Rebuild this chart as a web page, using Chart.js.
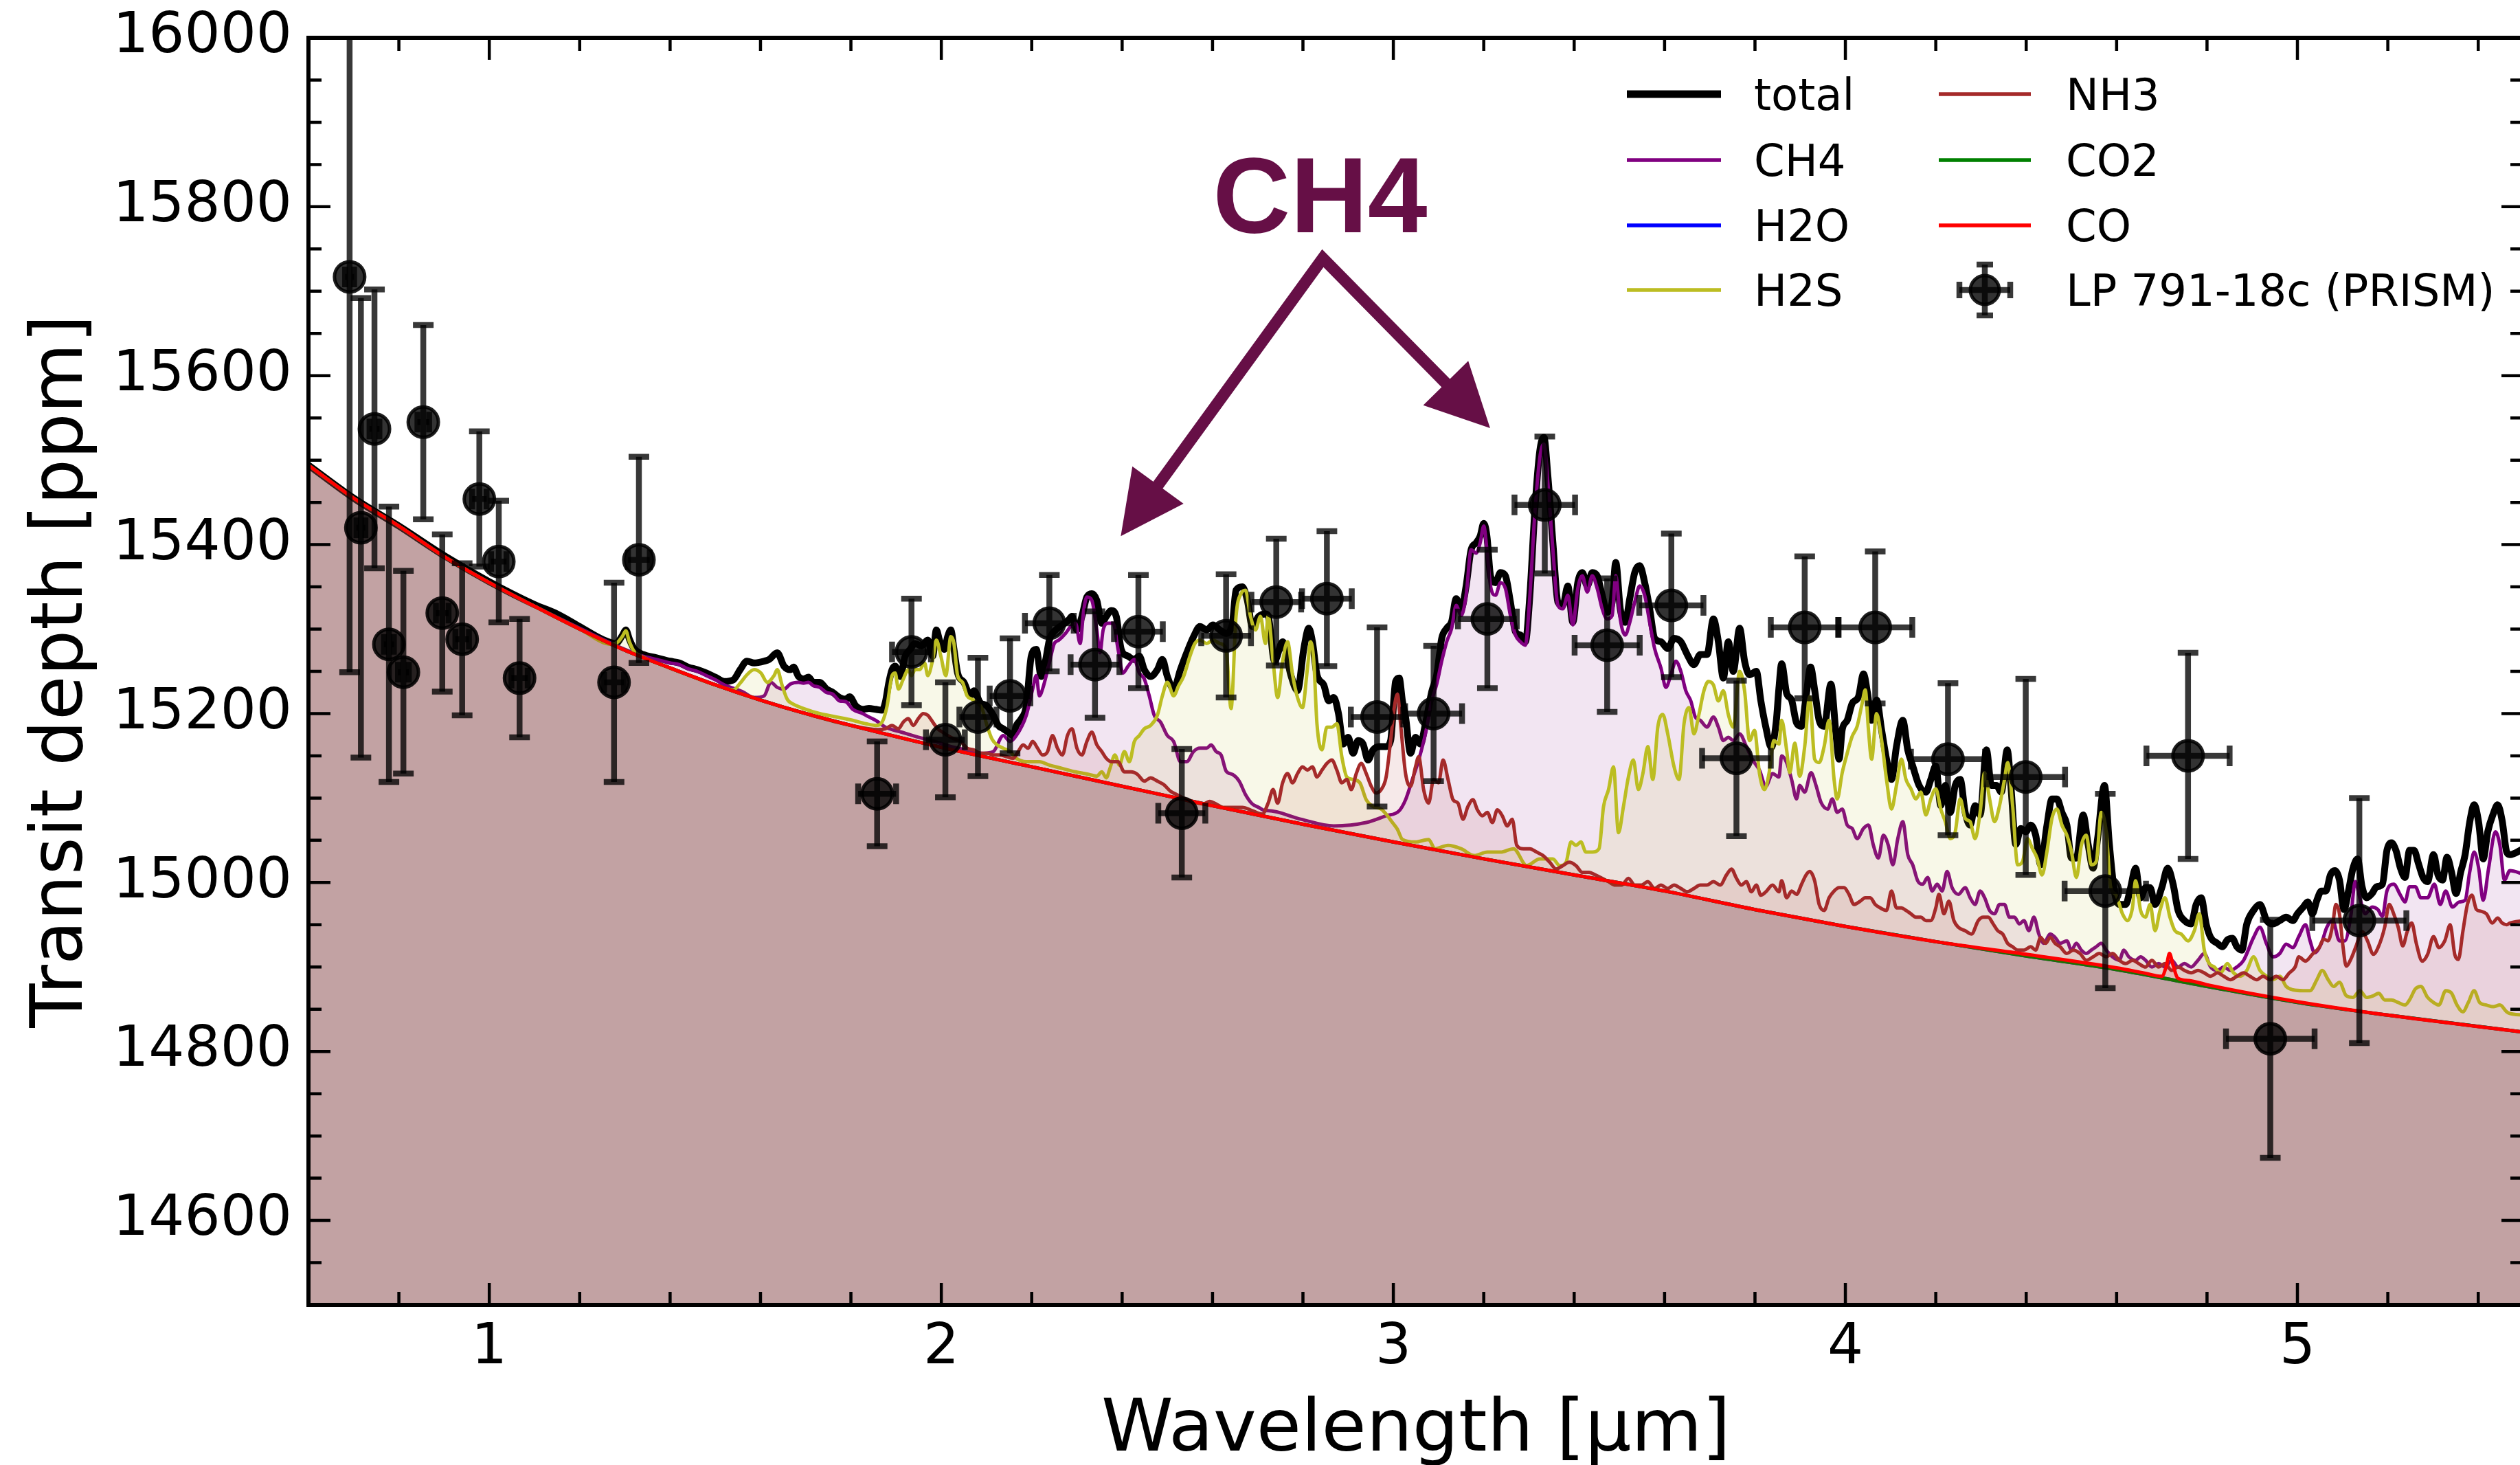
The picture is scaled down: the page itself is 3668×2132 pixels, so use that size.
<!DOCTYPE html>
<html>
<head>
<meta charset="utf-8">
<title>LP 791-18c transmission spectrum</title>
<script src="https://cdn.jsdelivr.net/npm/chart.js@4.4.1/dist/chart.umd.min.js"></script>
<style>
html,body{margin:0;padding:0;background:#fff;overflow:hidden;width:3668px;height:2132px;}
#holder{position:absolute;left:0;top:0;width:3700px;height:2132px;}
canvas{display:block;}
</style>
</head>
<body>
<div id="holder"><canvas id="chart" width="3700" height="2132"></canvas></div>
<script>
// ---------------- DATA (wavelength [um], transit depth [ppm]) ----------------
const seriesNames = ['total', 'CH4', 'H2O', 'H2S', 'NH3', 'CO2', 'CO'];
const observedLabel = 'LP 791-18c (PRISM)';

const xTickValues = [1, 2, 3, 4, 5];
const yTickValues = [14600, 14800, 15000, 15200, 15400, 15600, 15800, 16000];

// continuum (H2O and CO2 contributions coincide with it)
const continuumModel = [[0.6,15494],[0.7,15455],[0.8,15422],[0.9,15386],[1.0,15355],[1.1,15327],[1.2,15300],[1.3,15275],[1.4,15254],[1.5,15234],[1.6,15216],[1.7,15200],[1.8,15186],[2.0,15160],[2.2,15137],[2.4,15114],[2.6,15091],[2.8,15069],[3.0,15048],[3.2,15028],[3.4,15009],[3.6,14990],[3.8,14968],[4.0,14948],[4.2,14930],[4.4,14913],[4.6,14897],[4.8,14877],[5.0,14858],[5.2,14843],[5.5,14823]];

const h2oModel = continuumModel;
const co2Model = continuumModel;

const coModel = [[0.6,15494],[0.7,15455],[0.8,15422],[0.9,15386],[1.0,15355],[1.1,15327],[1.2,15300],[1.3,15275],[1.4,15254],[1.5,15234],[1.6,15216],[1.7,15200],[1.8,15186],[2.0,15160],[2.2,15137],[2.4,15114],[2.6,15091],[2.8,15069],[3.0,15048],[3.2,15028],[3.4,15009],[3.6,14990],[3.8,14968],[4.0,14948],[4.2,14930],[4.4,14915],[4.6,14899],[4.66,14893],[4.70,14889],[4.71,14901],[4.717,14916],[4.725,14902],[4.735,14887],[4.76,14884],[4.8,14879],[5.0,14859],[5.2,14843],[5.5,14823]];

const totalModel = [[0.6,15494],[0.7,15455],[0.8,15422],[0.9,15387],[1.0,15356],[1.1,15329],[1.15,15318],[1.2,15303],[1.25,15288],[1.28,15283],[1.295,15293],[1.302,15299],[1.31,15288],[1.32,15277],[1.34,15270],[1.37,15266],[1.40,15262],[1.42,15260],[1.44,15255],[1.46,15252],[1.48,15248],[1.50,15243],[1.52,15238],[1.54,15240],[1.555,15252],[1.57,15262],
[1.586,15260],[1.608,15262],[1.619,15264],[1.637,15272],[1.652,15256],[1.666,15252],[1.673,15255],[1.684,15244],[1.695,15241],[1.706,15243],[1.717,15237],[1.731,15237],[1.746,15229],[1.760,15225],[1.775,15219],[1.789,15217],[1.797,15220],[1.811,15209],[1.826,15205],[1.840,15206],[1.855,15205],[1.869,15204],[1.876,15213],[1.884,15237],[1.891,15252],[1.898,15256],[1.909,15244],[1.920,15268],[1.931,15276],[1.942,15283],[1.956,15280],[1.970,15287],[1.981,15268],[1.989,15299],[1.996,15287],[2.007,15276],[2.014,15291],[2.021,15299],[2.028,15276],[2.036,15248],[2.050,15237],[2.065,15221],[2.072,15227],[2.086,15213],[2.101,15209],[2.115,15198],[2.126,15186],[2.137,15182],[2.148,15178],[2.159,15174],[2.166,15186],[2.177,15194],[2.188,15209],[2.199,15268],[2.210,15276],[2.221,15244],[2.231,15264],[2.239,15287],[2.253,15299],[2.268,15305],[2.282,15311],[2.289,15315],[2.300,15299],[2.311,15315],[2.322,15338],[2.333,15342],[2.344,15334],[2.355,15307],[2.365,15315],[2.376,15322],[2.387,15315],[2.398,15276],[2.413,15268],[2.427,15264],[2.438,15268],[2.449,15252],[2.463,15244],[2.478,15252],[2.489,15264],[2.500,15244],[2.514,15229],[2.529,15252],[2.543,15272],[2.558,15291],[2.572,15303],[2.587,15299],[2.601,15305],[2.616,15299],[2.630,15295],[2.644,15307],[2.652,15346],[2.666,15350],[2.677,15334],[2.688,15303],[2.702,15315],[2.717,15318],
[2.723,15316],[2.737,15262],[2.755,15285],[2.773,15246],[2.788,15227],[2.802,15277],[2.813,15301],[2.821,15285],[2.831,15246],[2.846,15234],[2.857,15215],[2.868,15219],[2.879,15199],[2.889,15164],[2.900,15172],[2.911,15153],[2.922,15168],[2.933,15164],[2.944,15145],[2.955,15157],[2.969,15161],[2.984,15161],[2.994,15168],[3.005,15238],[3.013,15242],[3.020,15215],[3.027,15196],[3.038,15153],[3.049,15172],[3.060,15164],[3.071,15188],[3.085,15226],[3.096,15246],[3.107,15289],[3.118,15301],[3.129,15309],[3.139,15336],[3.150,15324],[3.161,15351],[3.172,15394],[3.183,15402],[3.192,15410],[3.200,15425],[3.207,15410],[3.215,15363],[3.226,15355],[3.237,15367],[3.248,15363],[3.259,15332],[3.270,15297],[3.281,15293],[3.292,15285],[3.302,15340],[3.313,15441],[3.324,15511],[3.333,15527],[3.342,15480],[3.353,15402],[3.364,15332],[3.375,15328],[3.386,15351],[3.397,15308],[3.408,15355],[3.418,15367],[3.429,15351],[3.440,15367],[3.451,15363],[3.462,15340],[3.473,15320],[3.484,15332],[3.492,15379],[3.502,15324],[3.513,15308],[3.523,15336],[3.534,15367],[3.545,15375],[3.556,15355],[3.567,15324],[3.578,15289],[3.592,15285],[3.607,15277],[3.621,15289],[3.636,15285],[3.650,15270],[3.665,15258],[3.679,15270],[3.694,15270],[3.708,15312],[3.719,15285],[3.730,15242],[3.741,15285],[3.752,15250],[3.766,15301],[3.777,15262],[3.788,15246],[3.803,15250],[3.813,15215],[3.824,15184],[3.836,15160],[3.847,15190],[3.853,15230],
[3.859,15259],[3.870,15224],[3.881,15216],[3.892,15189],[3.903,15185],[3.913,15220],[3.923,15255],[3.932,15228],[3.942,15192],[3.953,15185],[3.968,15235],[3.979,15177],[3.986,15146],[3.993,15181],[4.004,15192],[4.015,15212],[4.029,15220],[4.040,15247],[4.049,15224],[4.058,15192],[4.069,15216],[4.080,15181],[4.091,15146],[4.102,15122],[4.113,15161],[4.127,15192],[4.138,15157],[4.149,15138],[4.163,15115],[4.178,15107],[4.189,15122],[4.200,15138],[4.211,15091],[4.221,15115],[4.232,15083],[4.243,15115],[4.254,15122],[4.265,15083],[4.276,15068],[4.287,15091],[4.298,15080],[4.312,15157],[4.323,15115],[4.334,15115],[4.345,15107],[4.358,15157],[4.366,15115],[4.377,15045],[4.388,15064],[4.399,15060],[4.410,15068],[4.421,15056],[4.432,15021],[4.446,15068],[4.457,15099],[4.468,15099],[4.479,15083],[4.490,15068],[4.500,15029],[4.511,15029],[4.526,15080],[4.537,15045],[4.548,15017],[4.558,15052],[4.573,15115],[4.584,15045],[4.595,14990],[4.606,14974],[4.620,14974],[4.631,14994],[4.642,15017],[4.653,14982],[4.664,14994],[4.674,14994],[4.685,14974],[4.700,14994],[4.713,15017],[4.725,14998],[4.736,14967],[4.750,14955],[4.765,14951],[4.776,14974],[4.787,14982],[4.798,14951],[4.808,14935],[4.823,14928],[4.834,14924],[4.845,14932],[4.856,14934],[4.866,14924],[4.877,14920],[4.888,14951],[4.903,14967],[4.917,14974],[4.932,14955],[4.946,14951],[4.961,14955],[4.975,14959],[4.990,14955],
[5.000,14963],[5.013,14971],[5.023,14977],[5.033,14963],[5.043,14979],[5.053,14990],[5.063,14990],[5.073,15009],[5.083,15014],[5.093,15003],[5.103,14968],[5.113,14990],[5.123,15017],[5.133,15028],[5.143,14995],[5.153,14982],[5.165,14987],[5.175,14995],[5.188,14998],[5.198,15038],[5.208,15047],[5.218,15038],[5.228,15017],[5.238,15006],[5.248,15038],[5.258,15038],[5.268,15022],[5.278,15006],[5.288,15001],[5.301,15033],[5.311,15009],[5.321,15003],[5.331,15030],[5.341,15012],[5.351,14987],[5.361,15012],[5.371,15033],[5.381,15071],[5.391,15092],[5.401,15071],[5.411,15028],[5.421,15060],[5.433,15081],[5.443,15092],[5.453,15073],[5.463,15036],[5.470,15033],[5.5,15040]];

const ch4Model = [[0.6,15494],[0.7,15455],[0.8,15422],[0.9,15386],[1.0,15355],[1.1,15327],[1.2,15301],[1.3,15276],[1.34,15268],[1.37,15264],[1.40,15260],[1.42,15258],[1.44,15253],[1.46,15250],[1.48,15245],[1.50,15240],[1.52,15234],[1.54,15230],[1.56,15226],
[1.586,15219],[1.608,15221],[1.623,15237],[1.637,15231],[1.652,15229],[1.666,15235],[1.684,15237],[1.695,15236],[1.706,15237],[1.717,15233],[1.731,15231],[1.746,15225],[1.760,15223],[1.775,15215],[1.789,15214],[1.804,15205],[1.826,15200],[1.840,15196],[1.855,15192],[1.876,15184],[1.912,15178],[1.949,15172],[1.985,15167],[2.021,15161],[2.057,15157],[2.094,15153],[2.115,15155],[2.137,15174],[2.152,15167],[2.166,15174],[2.188,15198],[2.202,15229],[2.210,15245],[2.217,15221],[2.224,15229],[2.239,15260],[2.250,15283],[2.260,15287],[2.275,15295],[2.286,15303],[2.297,15307],[2.307,15283],[2.315,15322],[2.322,15338],[2.333,15334],[2.344,15299],[2.351,15272],[2.358,15299],[2.369,15307],[2.380,15307],[2.391,15276],[2.402,15248],[2.413,15256],[2.427,15264],[2.438,15248],[2.449,15241],[2.460,15221],[2.471,15198],[2.485,15190],[2.500,15174],[2.514,15167],[2.529,15143],[2.543,15143],[2.558,15155],[2.572,15159],[2.587,15159],[2.597,15163],[2.608,15155],[2.619,15151],[2.630,15132],[2.644,15128],[2.659,15120],[2.673,15104],[2.688,15093],[2.702,15089],[2.717,15085],
[2.723,15085],[2.795,15075],[2.868,15067],[2.940,15071],[2.984,15079],[3.013,15085],[3.027,15098],[3.042,15122],[3.056,15145],[3.071,15176],[3.085,15215],[3.096,15235],[3.107,15262],[3.118,15285],[3.129,15301],[3.139,15328],[3.150,15316],[3.161,15340],[3.172,15394],[3.183,15390],[3.192,15402],[3.200,15422],[3.207,15394],[3.215,15351],[3.226,15340],[3.237,15355],[3.248,15348],[3.259,15316],[3.270,15293],[3.281,15285],[3.292,15281],[3.302,15340],[3.313,15437],[3.324,15503],[3.333,15519],[3.342,15472],[3.353,15394],[3.364,15328],[3.375,15324],[3.386,15340],[3.397,15305],[3.408,15348],[3.418,15363],[3.429,15344],[3.440,15363],[3.451,15348],[3.462,15324],[3.473,15312],[3.484,15316],[3.492,15363],[3.502,15312],[3.513,15293],[3.523,15308],[3.534,15332],[3.545,15351],[3.556,15340],[3.567,15308],[3.578,15277],[3.592,15254],[3.603,15231],[3.614,15246],[3.625,15262],[3.636,15250],[3.647,15227],[3.658,15215],[3.668,15196],[3.679,15192],[3.694,15184],[3.708,15196],[3.719,15184],[3.730,15168],[3.741,15172],[3.752,15168],[3.766,15176],[3.781,15161],[3.795,15145],[3.810,15133],[3.824,15114],[3.839,15129],[3.853,15125],
[3.859,15150],[3.870,15142],[3.881,15122],[3.892,15099],[3.899,15115],[3.910,15107],[3.924,15130],[3.935,15115],[3.946,15095],[3.961,15087],[3.971,15099],[3.982,15083],[3.993,15087],[4.004,15068],[4.015,15064],[4.026,15052],[4.040,15064],[4.051,15068],[4.062,15044],[4.073,15029],[4.084,15056],[4.095,15044],[4.105,15021],[4.116,15052],[4.127,15072],[4.138,15033],[4.149,15021],[4.160,15002],[4.171,14998],[4.182,15006],[4.192,14990],[4.203,14998],[4.214,14990],[4.225,15013],[4.236,14994],[4.250,14986],[4.265,14994],[4.276,14982],[4.287,14974],[4.298,14990],[4.308,14982],[4.319,14967],[4.330,14963],[4.341,14974],[4.352,14974],[4.363,14959],[4.374,14959],[4.385,14951],[4.395,14955],[4.406,14943],[4.417,14959],[4.428,14939],[4.439,14928],[4.453,14939],[4.464,14935],[4.475,14928],[4.490,14931],[4.500,14920],[4.511,14928],[4.522,14920],[4.533,14916],[4.544,14920],[4.555,14924],[4.566,14928],[4.577,14920],[4.591,14912],[4.606,14908],[4.616,14920],[4.627,14912],[4.642,14908],[4.653,14912],[4.664,14908],[4.678,14900],[4.693,14904],[4.707,14900],[4.722,14908],[4.736,14900],[4.750,14904],[4.765,14900],[4.780,14908],[4.794,14916],[4.808,14900],[4.823,14896],[4.837,14900],[4.852,14896],[4.866,14900],[4.881,14908],[4.903,14935],[4.917,14947],[4.932,14927],[4.946,14912],[4.961,14916],[4.975,14927],[4.990,14923],
[5.003,14936],[5.018,14950],[5.028,14931],[5.038,14917],[5.053,14928],[5.065,14947],[5.078,14955],[5.093,14931],[5.105,14931],[5.118,14960],[5.128,15001],[5.138,14982],[5.150,14963],[5.165,14971],[5.178,14968],[5.188,14960],[5.198,14990],[5.213,14998],[5.228,14985],[5.238,14977],[5.248,14995],[5.261,14995],[5.273,14982],[5.288,14982],[5.303,14998],[5.316,14974],[5.328,14990],[5.343,14971],[5.358,14977],[5.371,14979],[5.381,15012],[5.391,15036],[5.401,15017],[5.411,14979],[5.423,15017],[5.438,15060],[5.448,15044],[5.458,15003],[5.470,15014],[5.5,15010]];

const h2sModel = [[0.6,15494],[0.7,15455],[0.8,15422],[0.9,15386],[1.0,15355],[1.1,15327],[1.2,15300],[1.27,15282],[1.285,15285],[1.295,15292],[1.302,15298],[1.31,15285],[1.32,15274],[1.34,15267],[1.4,15254],[1.5,15234],[1.54,15228],[1.555,15236],[1.57,15246],
[1.586,15252],[1.601,15248],[1.615,15237],[1.630,15245],[1.637,15252],[1.648,15233],[1.659,15217],[1.673,15211],[1.695,15206],[1.731,15200],[1.768,15196],[1.804,15192],[1.833,15188],[1.855,15186],[1.869,15190],[1.880,15209],[1.891,15245],[1.898,15248],[1.905,15229],[1.916,15241],[1.927,15252],[1.934,15245],[1.942,15252],[1.952,15252],[1.963,15260],[1.970,15245],[1.981,15264],[1.989,15287],[1.999,15268],[2.010,15245],[2.021,15291],[2.028,15283],[2.036,15245],[2.047,15237],[2.057,15221],[2.068,15217],[2.079,15213],[2.090,15206],[2.101,15186],[2.112,15170],[2.123,15163],[2.137,15159],[2.152,15155],[2.166,15147],[2.188,15143],[2.217,15143],[2.239,15139],[2.268,15135],[2.297,15131],[2.326,15128],[2.344,15126],[2.355,15131],[2.365,15124],[2.373,15135],[2.384,15151],[2.394,15139],[2.405,15155],[2.416,15143],[2.427,15167],[2.438,15174],[2.449,15182],[2.463,15186],[2.478,15198],[2.489,15221],[2.500,15237],[2.514,15221],[2.525,15233],[2.536,15244],[2.550,15268],[2.561,15283],[2.572,15287],[2.587,15283],[2.601,15287],[2.616,15283],[2.630,15276],[2.641,15206],[2.652,15315],[2.663,15342],[2.673,15346],[2.684,15315],[2.695,15299],[2.706,15315],[2.717,15283],
[2.723,15316],[2.734,15262],[2.744,15219],[2.755,15262],[2.766,15285],[2.777,15246],[2.788,15219],[2.799,15207],[2.810,15254],[2.817,15285],[2.824,15262],[2.831,15188],[2.842,15157],[2.853,15184],[2.864,15184],[2.875,15188],[2.886,15149],[2.897,15125],[2.911,15122],[2.926,15118],[2.940,15098],[2.955,15090],[2.973,15087],[2.987,15079],[2.998,15071],[3.009,15063],[3.020,15051],[3.049,15048],[3.078,15051],[3.092,15040],[3.121,15044],[3.150,15040],[3.179,15032],[3.208,15036],[3.237,15036],[3.266,15040],[3.295,15020],[3.324,15028],[3.353,15028],[3.368,15020],[3.382,15024],[3.393,15048],[3.404,15044],[3.415,15048],[3.426,15036],[3.440,15036],[3.455,15040],[3.465,15090],[3.476,15110],[3.487,15137],[3.498,15059],[3.509,15090],[3.520,15125],[3.531,15145],[3.542,15110],[3.552,15129],[3.563,15161],[3.574,15122],[3.585,15184],[3.596,15199],[3.607,15176],[3.621,15137],[3.632,15122],[3.643,15188],[3.654,15207],[3.665,15176],[3.676,15199],[3.687,15227],[3.697,15238],[3.708,15234],[3.719,15215],[3.730,15227],[3.741,15199],[3.752,15184],[3.766,15250],[3.777,15227],[3.788,15168],[3.799,15180],[3.810,15129],[3.821,15110],[3.831,15129],[3.842,15168],[3.853,15164],
[3.859,15192],[3.870,15157],[3.877,15130],[3.888,15165],[3.899,15126],[3.910,15161],[3.921,15220],[3.932,15146],[3.942,15142],[3.953,15161],[3.964,15192],[3.975,15122],[3.982,15099],[3.993,15130],[4.004,15153],[4.015,15173],[4.026,15185],[4.037,15212],[4.044,15228],[4.051,15181],[4.058,15146],[4.069,15200],[4.080,15169],[4.091,15122],[4.102,15087],[4.113,15115],[4.124,15146],[4.134,15122],[4.145,15111],[4.156,15099],[4.167,15107],[4.178,15080],[4.189,15099],[4.200,15111],[4.211,15087],[4.221,15072],[4.232,15052],[4.243,15060],[4.254,15099],[4.265,15076],[4.276,15072],[4.287,15052],[4.298,15083],[4.308,15130],[4.319,15099],[4.330,15072],[4.341,15091],[4.352,15122],[4.359,15142],[4.370,15091],[4.381,15021],[4.392,15025],[4.403,15052],[4.413,15041],[4.424,15029],[4.435,15009],[4.446,15037],[4.457,15076],[4.468,15087],[4.479,15068],[4.490,15056],[4.500,15037],[4.511,15006],[4.522,15044],[4.533,15056],[4.544,15021],[4.555,15025],[4.566,15083],[4.577,15060],[4.587,14994],[4.598,14986],[4.613,14963],[4.624,14955],[4.635,14970],[4.642,15002],[4.653,14967],[4.664,14959],[4.674,14974],[4.685,14943],[4.696,14967],[4.707,14982],[4.718,14959],[4.729,14943],[4.743,14939],[4.758,14931],[4.772,14943],[4.783,14963],[4.794,14920],[4.805,14904],[4.816,14900],[4.830,14893],[4.845,14904],[4.859,14893],[4.874,14889],[4.888,14896],[4.903,14912],[4.917,14896],[4.932,14889],[4.946,14885],[4.961,14889],[4.975,14877],[4.990,14873],
[5.013,14872],[5.028,14872],[5.043,14885],[5.055,14896],[5.068,14885],[5.080,14877],[5.093,14882],[5.108,14866],[5.123,14864],[5.138,14872],[5.153,14864],[5.168,14866],[5.180,14869],[5.193,14861],[5.208,14861],[5.223,14858],[5.238,14855],[5.248,14861],[5.261,14874],[5.273,14877],[5.288,14864],[5.301,14858],[5.313,14855],[5.328,14872],[5.341,14869],[5.353,14855],[5.366,14847],[5.378,14858],[5.391,14872],[5.403,14858],[5.418,14855],[5.433,14853],[5.448,14855],[5.463,14847],[5.470,14845],[5.5,14843]];

const nh3Model = [[0.6,15494],[0.7,15455],[0.8,15422],[0.9,15386],[1.0,15355],[1.1,15327],[1.2,15300],[1.3,15275],[1.4,15254],[1.5,15234],[1.6,15216],[1.7,15200],[1.8,15186],[1.86,15181],
[1.876,15182],[1.891,15186],[1.905,15182],[1.916,15190],[1.927,15194],[1.938,15186],[1.949,15194],[1.960,15200],[1.970,15198],[1.981,15190],[1.992,15182],[2.003,15178],[2.014,15174],[2.028,15170],[2.043,15167],[2.057,15159],[2.072,15157],[2.086,15153],[2.101,15153],[2.115,15151],[2.130,15151],[2.144,15149],[2.159,15147],[2.170,15155],[2.181,15163],[2.192,15159],[2.202,15167],[2.213,15159],[2.224,15151],[2.235,15155],[2.246,15174],[2.257,15159],[2.268,15151],[2.279,15174],[2.289,15182],[2.300,15159],[2.311,15151],[2.322,15167],[2.333,15178],[2.344,15163],[2.355,15155],[2.365,15147],[2.376,15143],[2.391,15143],[2.405,15131],[2.420,15131],[2.434,15128],[2.449,15120],[2.463,15124],[2.478,15120],[2.492,15116],[2.507,15108],[2.521,15104],[2.536,15100],[2.550,15096],[2.565,15094],[2.579,15093],[2.594,15096],[2.608,15093],[2.623,15089],[2.644,15089],[2.666,15089],[2.688,15085],[2.710,15081],
[2.723,15094],[2.734,15110],[2.744,15094],[2.755,15118],[2.766,15129],[2.777,15118],[2.788,15129],[2.799,15137],[2.810,15133],[2.821,15137],[2.831,15125],[2.842,15133],[2.853,15141],[2.864,15145],[2.875,15133],[2.886,15118],[2.897,15122],[2.907,15110],[2.918,15129],[2.929,15141],[2.940,15129],[2.951,15114],[2.962,15106],[2.973,15110],[2.984,15125],[2.994,15168],[3.002,15207],[3.009,15223],[3.016,15188],[3.027,15129],[3.038,15114],[3.049,15137],[3.056,15149],[3.067,15110],[3.078,15094],[3.089,15122],[3.100,15118],[3.110,15145],[3.121,15122],[3.132,15098],[3.143,15094],[3.154,15075],[3.165,15090],[3.176,15098],[3.186,15086],[3.197,15079],[3.208,15083],[3.219,15071],[3.230,15086],[3.241,15079],[3.252,15067],[3.263,15075],[3.273,15044],[3.288,15040],[3.302,15040],[3.317,15036],[3.331,15032],[3.346,15024],[3.360,15016],[3.375,15020],[3.389,15024],[3.404,15020],[3.418,15012],[3.433,15012],[3.447,15009],[3.462,15005],[3.476,15001],[3.491,14997],[3.505,14997],[3.520,15005],[3.534,14997],[3.549,14997],[3.563,15001],[3.578,14993],[3.592,14997],[3.607,14993],[3.621,14997],[3.636,14993],[3.650,14989],[3.665,14993],[3.679,14997],[3.694,14997],[3.708,15001],[3.723,14997],[3.737,15009],[3.748,15016],[3.759,15005],[3.770,14997],[3.781,15001],[3.792,14989],[3.803,14997],[3.813,14985],[3.824,14989],[3.839,14997],[3.853,14989],
[3.859,15002],[3.870,14982],[3.881,14990],[3.892,14986],[3.903,14998],[3.913,15009],[3.921,15013],[3.932,15002],[3.942,14974],[3.953,14967],[3.964,14982],[3.975,14990],[3.986,14994],[3.997,14994],[4.008,14986],[4.019,14974],[4.033,14978],[4.044,14982],[4.055,14982],[4.066,14974],[4.077,14970],[4.091,14967],[4.102,14990],[4.113,14970],[4.124,14970],[4.134,14967],[4.145,14963],[4.156,14959],[4.167,14959],[4.178,14955],[4.189,14955],[4.200,14970],[4.207,14986],[4.218,14963],[4.229,14978],[4.240,14955],[4.250,14947],[4.265,14943],[4.279,14939],[4.294,14955],[4.305,14959],[4.316,14959],[4.327,14951],[4.337,14943],[4.348,14939],[4.359,14928],[4.370,14924],[4.381,14920],[4.395,14920],[4.410,14924],[4.421,14920],[4.432,14935],[4.443,14928],[4.453,14935],[4.464,14928],[4.475,14924],[4.490,14916],[4.504,14920],[4.519,14916],[4.533,14908],[4.548,14912],[4.562,14916],[4.577,14912],[4.591,14916],[4.606,14908],[4.620,14904],[4.635,14908],[4.649,14904],[4.664,14900],[4.678,14908],[4.693,14900],[4.707,14904],[4.722,14896],[4.736,14900],[4.750,14896],[4.765,14893],[4.780,14896],[4.794,14893],[4.808,14889],[4.823,14893],[4.837,14889],[4.852,14885],[4.866,14889],[4.881,14893],[4.895,14889],[4.910,14885],[4.924,14889],[4.939,14885],[4.953,14889],[4.968,14885],[4.982,14893],[4.995,14900],
[5.003,14912],[5.018,14907],[5.033,14915],[5.048,14923],[5.058,14933],[5.068,14931],[5.078,14950],[5.085,14974],[5.093,14963],[5.100,14928],[5.108,14901],[5.118,14909],[5.130,14925],[5.143,14942],[5.155,14931],[5.168,14915],[5.180,14925],[5.193,14947],[5.203,14974],[5.213,14963],[5.223,14947],[5.233,14925],[5.243,14942],[5.253,14952],[5.263,14928],[5.276,14907],[5.288,14915],[5.301,14936],[5.313,14923],[5.326,14931],[5.338,14950],[5.348,14915],[5.356,14909],[5.366,14942],[5.376,14974],[5.386,14985],[5.396,14968],[5.406,14966],[5.418,14963],[5.431,14952],[5.443,14958],[5.453,14952],[5.463,14950],[5.470,14952],[5.5,14955]];

// observed spectrum (NIRSpec PRISM)
const obsWavelength = [0.691,0.716,0.746,0.778,0.810,0.854,0.896,0.940,0.978,1.021,1.067,1.276,1.331,1.858,1.934,2.009,2.081,2.152,2.239,2.340,2.436,2.532,2.630,2.741,2.853,2.964,3.089,3.208,3.335,3.473,3.615,3.759,3.910,4.066,4.227,4.399,4.575,4.758,4.940,5.137];
const obsDepth = [15717,15420,15537,15282,15249,15545,15319,15288,15454,15380,15242,15237,15382,15105,15273,15169,15196,15221,15307,15258,15297,15082,15292,15332,15336,15196,15200,15312,15447,15281,15328,15147,15302,15302,15146,15125,14990,15150,14815,14955];
const obsDepthErr = [468,272,165,163,120,115,93,90,80,72,70,118,122,62,63,68,70,68,57,63,67,76,73,75,80,106,80,82,81,79,85,92,84,90,90,116,115,122,141,145];
const obsWavelengthErr = [0.010,0.010,0.011,0.011,0.012,0.013,0.014,0.015,0.016,0.017,0.018,0.022,0.024,0.042,0.043,0.043,0.041,0.045,0.054,0.054,0.054,0.052,0.055,0.055,0.055,0.058,0.063,0.065,0.067,0.072,0.071,0.076,0.075,0.082,0.082,0.087,0.090,0.092,0.098,0.104];

// annotation (data coordinates)
const annotationText = 'CH4';
const annotationAnchor = [2.838, 15770];
const arrowApex = [2.844, 15739];
const arrowTips = [[2.397, 15410], [3.214, 15538]];

// ---------------- STYLE ----------------
const FONT = 'DejaVu Sans';
const ANNOT_COLOR = '#660f46';
const seriesColors = ['#000000', '#800080', '#0000ff', '#bcbd22', '#a52a2a', '#008000', '#ff0000'];
const seriesFills = [null, 'rgba(128,0,128,0.1)', 'rgba(0,0,255,0.1)', 'rgba(188,189,34,0.1)', 'rgba(165,42,42,0.1)', 'rgba(0,128,0,0.1)', 'rgba(255,0,0,0.1)'];
const seriesWidths = [10, 5, 5, 5, 5, 5, 5];
const seriesModels = [totalModel, ch4Model, h2oModel, h2sModel, nh3Model, co2Model, coModel];
const OBS_INDEX = 7;

const toXY = (arr) => arr.map(p => ({x: p[0], y: p[1]}));

const datasets = seriesNames.map((name, i) => ({
  label: name,
  data: toXY(seriesModels[i]),
  borderColor: seriesColors[i],
  borderWidth: seriesWidths[i],
  backgroundColor: seriesFills[i] || 'rgba(0,0,0,0)',
  fill: seriesFills[i] ? 'start' : false,
  pointRadius: 0,
  pointHoverRadius: 0,
  cubicInterpolationMode: 'monotone',
  borderJoinStyle: 'round',
  order: seriesNames.length - i
}));
datasets.push({
  label: observedLabel,
  data: obsWavelength.map((w, i) => ({x: w, y: obsDepth[i]})),
  showLine: false,
  pointRadius: 22,
  pointHoverRadius: 22,
  pointBackgroundColor: 'rgba(0,0,0,0.8)',
  pointBorderColor: 'rgba(0,0,0,0.88)',
  pointBorderWidth: 5,
  order: 0
});

function drawErrorBar(ctx, cx, cy, top, bottom, left, right, cap) {
  ctx.beginPath();
  ctx.moveTo(cx, top); ctx.lineTo(cx, bottom);
  ctx.moveTo(left, cy); ctx.lineTo(right, cy);
  ctx.stroke();
  ctx.beginPath();
  ctx.moveTo(cx - cap, top); ctx.lineTo(cx + cap, top);
  ctx.moveTo(cx - cap, bottom); ctx.lineTo(cx + cap, bottom);
  ctx.moveTo(left, cy - cap); ctx.lineTo(left, cy + cap);
  ctx.moveTo(right, cy - cap); ctx.lineTo(right, cy + cap);
  ctx.stroke();
}

const errorBarPlugin = {
  id: 'errorBars',
  beforeDatasetDraw(chart, args) {
    if (args.index !== OBS_INDEX) return;
    const {ctx, chartArea: a, scales: {x, y}} = chart;
    ctx.save();
    ctx.beginPath(); ctx.rect(a.left, a.top, a.width, a.height); ctx.clip();
    ctx.strokeStyle = 'rgba(0,0,0,0.78)';
    ctx.lineWidth = 8.5;
    ctx.lineCap = 'butt';
    obsWavelength.forEach((w, i) => {
      const cx = x.getPixelForValue(w), cy = y.getPixelForValue(obsDepth[i]);
      drawErrorBar(ctx, cx, cy,
        y.getPixelForValue(obsDepth[i] + obsDepthErr[i]),
        y.getPixelForValue(obsDepth[i] - obsDepthErr[i]),
        x.getPixelForValue(w - obsWavelengthErr[i]),
        x.getPixelForValue(w + obsWavelengthErr[i]), 15);
    });
    ctx.restore();
  }
};

const framePlugin = {
  id: 'frame',
  afterDraw(chart) {
    const {ctx, chartArea: a, scales: {x, y}} = chart;
    ctx.save();
    ctx.strokeStyle = '#000';
    ctx.lineCap = 'butt';
    ctx.lineWidth = 4.5;
    for (let k = 4; k <= 27; k++) {
      const v = k / 5;
      const px = x.getPixelForValue(v);
      const len = (k % 5 === 0) ? 32 : 19;
      ctx.beginPath();
      ctx.moveTo(px, a.bottom); ctx.lineTo(px, a.bottom - len);
      ctx.moveTo(px, a.top); ctx.lineTo(px, a.top + len);
      ctx.stroke();
    }
    for (let v = 14550; v <= 15950; v += 50) {
      const py = y.getPixelForValue(v);
      const len = ((v - 14600) % 200 === 0) ? 32 : 19;
      ctx.beginPath();
      ctx.moveTo(a.left, py); ctx.lineTo(a.left + len, py);
      ctx.moveTo(a.right, py); ctx.lineTo(a.right - len, py);
      ctx.stroke();
    }
    ctx.lineWidth = 6;
    ctx.strokeRect(a.left, a.top, a.right - a.left, a.bottom - a.top);
    ctx.restore();
  }
};

const annotationPlugin = {
  id: 'ch4Annotation',
  afterDraw(chart) {
    const {ctx, scales: {x, y}} = chart;
    ctx.save();
    ctx.fillStyle = ANNOT_COLOR;
    ctx.strokeStyle = ANNOT_COLOR;
    ctx.font = 'bold 156px "Liberation Sans", Arial, sans-serif';
    ctx.textAlign = 'center';
    ctx.textBaseline = 'alphabetic';
    ctx.fillText(annotationText, x.getPixelForValue(annotationAnchor[0]), y.getPixelForValue(annotationAnchor[1]));
    const ax = x.getPixelForValue(arrowApex[0]), ay = y.getPixelForValue(arrowApex[1]);
    const HEAD_LEN = 92, HEAD_HALF = 46;
    const heads = arrowTips.map(t => {
      const tx = x.getPixelForValue(t[0]), ty = y.getPixelForValue(t[1]);
      const dx = tx - ax, dy = ty - ay, L = Math.hypot(dx, dy);
      const ux = dx / L, uy = dy / L;
      return {tx, ty, ux, uy, bx: tx - ux * HEAD_LEN, by: ty - uy * HEAD_LEN};
    });
    ctx.lineWidth = 17;
    ctx.lineJoin = 'miter';
    ctx.miterLimit = 10;
    ctx.beginPath();
    ctx.moveTo(heads[0].bx + heads[0].ux * 4, heads[0].by + heads[0].uy * 4);
    ctx.lineTo(ax, ay);
    ctx.lineTo(heads[1].bx + heads[1].ux * 4, heads[1].by + heads[1].uy * 4);
    ctx.stroke();
    heads.forEach(h => {
      ctx.beginPath();
      ctx.moveTo(h.tx, h.ty);
      ctx.lineTo(h.bx - h.uy * HEAD_HALF, h.by + h.ux * HEAD_HALF);
      ctx.lineTo(h.bx + h.uy * HEAD_HALF, h.by - h.ux * HEAD_HALF);
      ctx.closePath();
      ctx.fill();
    });
    ctx.restore();
  }
};

const legendLayout = {rowY: [137, 233, 328, 422], lineX: [[2368, 2505], [2822, 2956]], textX: [2553, 3007]};

const legendPlugin = {
  id: 'customLegend',
  afterDraw(chart) {
    const {ctx} = chart;
    ctx.save();
    ctx.font = '64px "' + FONT + '"';
    ctx.textAlign = 'left';
    ctx.textBaseline = 'alphabetic';
    chart.data.datasets.forEach((ds, i) => {
      const col = i < 4 ? 0 : 1, row = i % 4;
      const yy = legendLayout.rowY[row];
      const [x1, x2] = legendLayout.lineX[col];
      if (i === OBS_INDEX) {
        const cx = (x1 + x2) / 2;
        ctx.strokeStyle = 'rgba(0,0,0,0.78)';
        ctx.lineWidth = 8.5;
        drawErrorBar(ctx, cx, yy, yy - 37, yy + 37, cx - 37, cx + 37, 12);
        ctx.beginPath(); ctx.arc(cx, yy, 21, 0, Math.PI * 2);
        ctx.fillStyle = 'rgba(0,0,0,0.8)'; ctx.fill();
        ctx.lineWidth = 5; ctx.strokeStyle = 'rgba(0,0,0,0.88)'; ctx.stroke();
      } else {
        ctx.strokeStyle = ds.borderColor;
        ctx.lineWidth = i === 0 ? 11 : 5.5;
        ctx.beginPath(); ctx.moveTo(x1, yy); ctx.lineTo(x2, yy); ctx.stroke();
      }
      ctx.fillStyle = '#000';
      ctx.fillText(ds.label, legendLayout.textX[col], yy + 23);
    });
    ctx.restore();
  }
};

Chart.defaults.font.family = FONT;

new Chart(document.getElementById('chart'), {
  type: 'line',
  data: {datasets},
  plugins: [errorBarPlugin, framePlugin, annotationPlugin, legendPlugin],
  options: {
    responsive: false,
    animation: false,
    devicePixelRatio: 1,
    events: [],
    layout: {padding: {left: 0, right: 17, top: 55, bottom: 0}},
    plugins: {legend: {display: false}, tooltip: {enabled: false}},
    scales: {
      x: {
        type: 'linear',
        min: 0.6,
        max: 5.5,
        afterBuildTicks: (axis) => { axis.ticks = xTickValues.map(v => ({value: v})); },
        afterFit: (scale) => { scale.height = 233; scale.paddingLeft = 0; scale.paddingRight = 0; },
        grid: {display: false, drawTicks: false},
        border: {display: false},
        ticks: {font: {family: FONT, size: 82}, color: '#000', padding: 15, maxRotation: 0, autoSkip: false, callback: (v) => String(v)},
        title: {display: true, text: 'Wavelength [μm]', color: '#000', font: {family: FONT, size: 106, lineHeight: 0.92}, padding: {top: 0, bottom: 0}}
      },
      y: {
        type: 'linear',
        min: 14500,
        max: 16000,
        afterBuildTicks: (axis) => { axis.ticks = yTickValues.map(v => ({value: v})); },
        afterFit: (scale) => { scale.width = 449; scale.paddingTop = 0; scale.paddingBottom = 0; },
        grid: {display: false, drawTicks: false},
        border: {display: false},
        ticks: {font: {family: FONT, size: 82}, color: '#000', padding: 24, autoSkip: false, callback: (v) => String(v)},
        title: {display: true, text: 'Transit depth [ppm]', color: '#000', font: {family: FONT, size: 105, lineHeight: 1.2}, padding: {top: 29, bottom: 0}}
      }
    }
  }
});
</script>
</body>
</html>
